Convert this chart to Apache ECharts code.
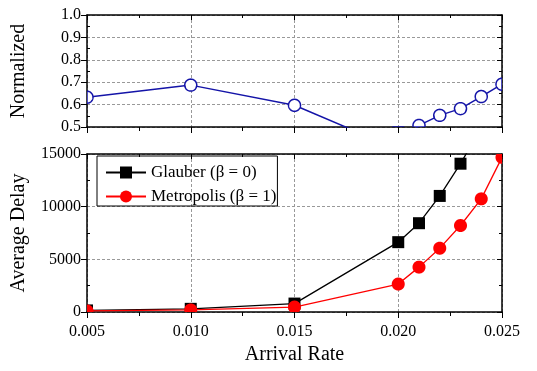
<!DOCTYPE html>
<html>
<head>
<meta charset="utf-8">
<script src="https://cdn.jsdelivr.net/npm/echarts@6/dist/echarts.min.js"></script>
<style>
html,body{margin:0;padding:0;background:#fff;}
#c{width:537px;height:371px;}
</style>
</head>
<body>
<div id="c"></div>
<script>
// ---- data ----
const arrivalRates = [0.005, 0.010, 0.015, 0.020, 0.021, 0.022, 0.023, 0.024, 0.025];
const normalized   = [0.633, 0.687, 0.597, 0.40, 0.507, 0.552, 0.582, 0.636, 0.691];
const glauberRates = [0.005, 0.010, 0.015, 0.020, 0.021, 0.022, 0.023, 0.024];
const glauberDelay = [150, 300, 800, 6630, 8430, 11020, 14080, 17500];
const metroRates   = [0.005, 0.010, 0.015, 0.020, 0.021, 0.022, 0.023, 0.024, 0.025];
const metroDelay   = [100, 200, 470, 2650, 4260, 6060, 8210, 10740, 14680];
const xTicks = [0.005, 0.010, 0.015, 0.020, 0.025];
const normTicks = [0.5, 0.6, 0.7, 0.8, 0.9, 1.0];
const delayTicks = [0, 5000, 10000, 15000];
const glauberName = 'Glauber (\u03B2 = 0)';
const metroName = 'Metropolis (\u03B2 = 1)';

const FONT = 'Liberation Serif';
const pairs = (xs, ys) => xs.map((x, i) => [x, ys[i]]);

const dashed = {show: true, lineStyle: {color: '#999', type: [3, 2], width: 1}};
const axisLine = {show: true, onZero: false, lineStyle: {color: '#000', width: 1.5}};

function xMain(grid, labels) {
  return {
    type: 'value', gridIndex: grid, position: 'bottom',
    min: xTicks[0], max: xTicks[xTicks.length - 1], interval: 0.005,
    axisLine: axisLine,
    axisTick: {show: true, inside: false, length: 6, lineStyle: {color: '#000', width: 1}},
    minorTick: {show: true, splitNumber: 2, length: 4, lineStyle: {color: '#000', width: 1}},
    axisLabel: {show: labels, margin: 12, color: '#000', fontFamily: FONT, fontSize: 16,
      formatter: v => v.toFixed(3)},
    splitLine: dashed,
    name: labels ? 'Arrival Rate' : '', nameLocation: 'middle', nameGap: 33,
    nameTextStyle: {color: '#000', fontFamily: FONT, fontSize: 20}
  };
}
function xTop(grid) {
  return {
    type: 'value', gridIndex: grid, position: 'top',
    min: xTicks[0], max: xTicks[xTicks.length - 1], interval: 0.005,
    axisLine: axisLine,
    axisTick: {show: true, inside: true, length: 5, lineStyle: {color: '#000'}},
    minorTick: {show: true, splitNumber: 2, length: 3, lineStyle: {color: '#000'}},
    axisLabel: {show: false}, splitLine: {show: false}
  };
}
function yMain(grid, ticks, interval, fmt, name, nameGap) {
  return {
    type: 'value', gridIndex: grid, position: 'left',
    min: ticks[0], max: ticks[ticks.length - 1], interval: interval,
    axisLine: axisLine,
    axisTick: {show: true, inside: false, length: 6, lineStyle: {color: '#000'}},
    minorTick: {show: false},
    axisLabel: {show: true, margin: 6, color: '#000', fontFamily: FONT, fontSize: 16, formatter: fmt},
    splitLine: dashed,
    name: name, nameLocation: 'middle', nameGap: nameGap,
    nameTextStyle: {color: '#000', fontFamily: FONT, fontSize: 20}
  };
}
function yMinorLeft(grid, ticks, interval) {
  return {
    type: 'value', gridIndex: grid, position: 'left',
    min: ticks[0], max: ticks[ticks.length - 1], interval: interval,
    axisLine: {show: false},
    axisTick: {show: false, inside: true},
    minorTick: {show: true, splitNumber: 2, length: 3, lineStyle: {color: '#000'}},
    axisLabel: {show: false}, splitLine: {show: false}
  };
}
function yRight(grid, ticks, interval) {
  return {
    type: 'value', gridIndex: grid, position: 'right',
    min: ticks[0], max: ticks[ticks.length - 1], interval: interval,
    axisLine: axisLine,
    axisTick: {show: true, inside: true, length: 5, lineStyle: {color: '#000'}},
    minorTick: {show: true, splitNumber: 2, length: 3, lineStyle: {color: '#000'}},
    axisLabel: {show: false}, splitLine: {show: false}
  };
}

// Marker outlines clamped to the plotting rectangle (clips markers at the frame)
function clampPts(pts, cs) {
  return pts.map(q => [
    Math.min(cs.x + cs.width, Math.max(cs.x, q[0])),
    Math.min(cs.y + cs.height, Math.max(cs.y, q[1]))
  ]);
}
function circlePts(c, r) {
  const out = [];
  for (let i = 0; i < 64; i++) {
    const a = i / 64 * Math.PI * 2;
    out.push([c[0] + r * Math.cos(a), c[1] + r * Math.sin(a)]);
  }
  return out;
}
function squarePts(c, h) {
  return [[c[0] - h, c[1] - h], [c[0] + h, c[1] - h], [c[0] + h, c[1] + h], [c[0] - h, c[1] + h]];
}

function markerSeries(xi, yi, data, shapeFn, style) {
  return {
    type: 'custom', xAxisIndex: xi, yAxisIndex: yi, clip: true, z: 4,
    data: data, encode: {x: 0, y: 1},
    renderItem: (params, api) => {
      const p = api.coord([api.value(0), api.value(1)]);
      const cs = params.coordSys;
      return {type: 'polygon', shape: {points: clampPts(shapeFn(p), cs)}, style: style};
    }
  };
}

const chart = echarts.init(document.getElementById('c'), null, {renderer: 'canvas'});
chart.setOption({
  animation: false,
  backgroundColor: '#fff',
  textStyle: {fontFamily: FONT},
  grid: [
    {left: 87, top: 15, width: 415, height: 112},
    {left: 87, top: 154, width: 415, height: 158}
  ],
  xAxis: [xMain(0, false), xTop(0), xMain(1, true), xTop(1)],
  yAxis: [
    yMain(0, normTicks, 0.1, v => v.toFixed(1), 'Normalized', 58),
    yMinorLeft(0, normTicks, 0.1),
    yRight(0, normTicks, 0.1),
    yMain(1, delayTicks, 5000, v => String(v), 'Average Delay', 58),
    yMinorLeft(1, delayTicks, 5000),
    yRight(1, delayTicks, 5000)
  ],
  legend: {
    show: true, orient: 'vertical', left: 97, top: 156,
    data: [glauberName, metroName],
    itemWidth: 40, itemHeight: 15, itemGap: 7,
    padding: [8, 1, 1, 8],
    borderColor: '#000', borderWidth: 1, borderRadius: 0,
    textStyle: {color: '#000', fontFamily: FONT, fontSize: 17}
  },
  series: [
    {
      type: 'line', name: 'Normalized', xAxisIndex: 0, yAxisIndex: 0,
      data: pairs(arrivalRates, normalized), showSymbol: false, symbol: 'circle',
      clip: true, lineStyle: {color: '#1414a8', width: 1.5}, itemStyle: {color: '#1414a8'}
    },
    markerSeries(0, 0, pairs(arrivalRates, normalized), p => circlePts(p, 6),
      {fill: '#fff', stroke: '#1414a8', lineWidth: 1.5}),
    {
      type: 'line', name: glauberName, xAxisIndex: 2, yAxisIndex: 3,
      data: pairs(glauberRates, glauberDelay), showSymbol: false, symbol: 'rect',
      clip: true, lineStyle: {color: '#000', width: 1.3}, itemStyle: {color: '#000'}
    },
    {
      type: 'line', name: metroName, xAxisIndex: 2, yAxisIndex: 3,
      data: pairs(metroRates, metroDelay), showSymbol: false, symbol: 'circle',
      clip: true, lineStyle: {color: '#ff0000', width: 1.3}, itemStyle: {color: '#ff0000'}
    },
    markerSeries(2, 3, pairs(glauberRates, glauberDelay), p => squarePts(p, 6), {fill: '#000'}),
    markerSeries(2, 3, pairs(metroRates, metroDelay), p => circlePts(p, 6.5), {fill: '#ff0000'})
  ]
});
</script>
</body>
</html>
